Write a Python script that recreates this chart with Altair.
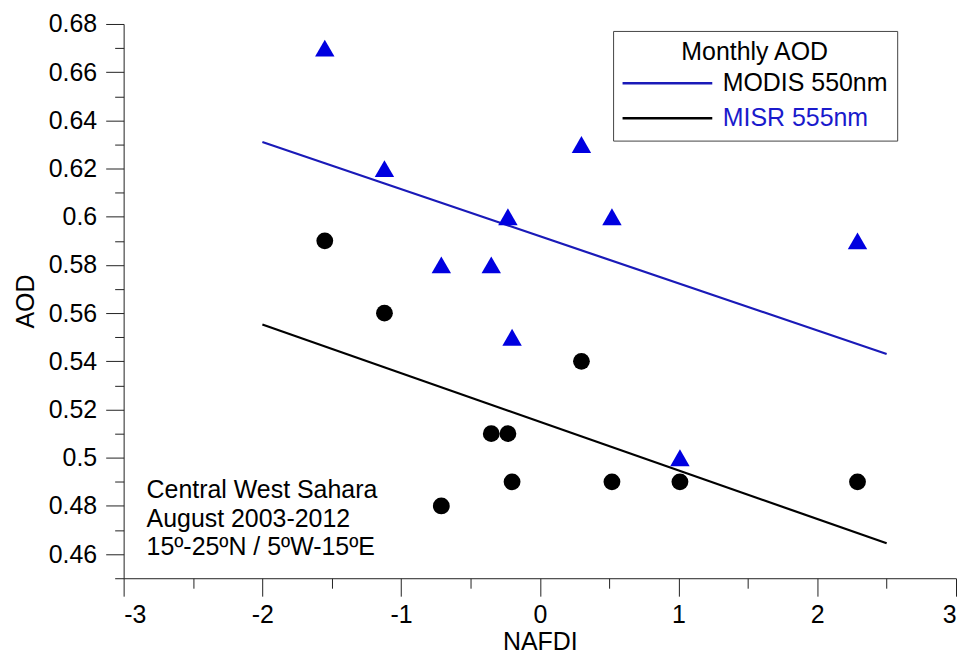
import altair as alt
import pandas as pd

# ---- data ----
NAFDI = [-1.55, -1.12, -0.71, -0.35, -0.23, -0.20, 0.30, 0.52, 1.01, 2.29]
MODIS_AOD = [0.67, 0.62, 0.58, 0.58, 0.60, 0.55, 0.63, 0.60, 0.50, 0.59]
MISR_AOD = [0.59, 0.56, 0.48, 0.51, 0.51, 0.49, 0.54, 0.49, 0.49, 0.49]
SERIES = ["MODIS 550nm", "MISR 555nm"]
MARK_KEYS = ["MODIS", "MISR"]
FIT_EXTENT = [-2, 2.5]

X_MAJOR = [-3, -2, -1, 0, 1, 2, 3]
X_MINOR = [-2.5, -1.5, -0.5, 0.5, 1.5, 2.5]
Y_MAJOR = [0.46, 0.48, 0.5, 0.52, 0.54, 0.56, 0.58, 0.6, 0.62, 0.64, 0.66, 0.68]
Y_MINOR = [0.45, 0.47, 0.49, 0.51, 0.53, 0.55, 0.57, 0.59, 0.61, 0.63, 0.65, 0.67]
NOTE_LINES = ["Central West Sahara", "August 2003-2012", "15º-25ºN / 5ºW-15ºE"]

n = len(NAFDI)
df = pd.DataFrame({
    "NAFDI": NAFDI + NAFDI,
    "AOD": MODIS_AOD + MISR_AOD,
    "series": [SERIES[0]] * n + [SERIES[1]] * n,
    "key": [MARK_KEYS[0]] * n + [MARK_KEYS[1]] * n,
})
note_df = pd.DataFrame({"note": ["\n".join(NOTE_LINES)]})

FONT = "Liberation Sans"
FS = 25
BLUE_PT = "#0000e0"
BLUE_LN = "#1a1ab8"

xscale = alt.Scale(domain=[-3, 3], nice=False, zero=False)
yscale = alt.Scale(domain=[0.45, 0.68], nice=False, zero=False)

major_x = alt.Axis(values=X_MAJOR, orient="bottom", tickSize=18, labelPadding=6,
                   labelExpr="'' + datum.value", title="NAFDI", titlePadding=3)
major_y = alt.Axis(values=Y_MAJOR, orient="left", tickSize=18, labelPadding=9,
                   labelExpr="'' + datum.value", title="AOD", titlePadding=10)
minor_x = alt.Axis(values=X_MINOR, orient="bottom", tickSize=10, labels=False,
                   domain=False, title=None)
minor_y = alt.Axis(values=Y_MINOR, orient="left", tickSize=9, labels=False,
                   domain=False, title=None)

base = alt.Chart(df)

points = base.mark_point(filled=True, opacity=1, strokeWidth=0).encode(
    x=alt.X("NAFDI:Q", scale=xscale, axis=major_x),
    y=alt.Y("AOD:Q", scale=yscale, axis=major_y),
    fill=alt.Fill("key:N", scale=alt.Scale(domain=MARK_KEYS, range=[BLUE_PT, "black"]), legend=None),
    shape=alt.Shape("key:N", scale=alt.Scale(domain=MARK_KEYS, range=["triangle-up", "circle"]), legend=None),
    size=alt.Size("key:N", scale=alt.Scale(domain=MARK_KEYS, range=[380, 285]), legend=None),
)

lines = base.transform_regression(
    "NAFDI", "AOD", groupby=["series"], extent=FIT_EXTENT
).mark_line(strokeWidth=2.2).encode(
    x=alt.X("NAFDI:Q", scale=xscale, axis=None),
    y=alt.Y("AOD:Q", scale=yscale, axis=None),
    color=alt.Color(
        "series:N",
        scale=alt.Scale(domain=SERIES, range=[BLUE_LN, "black"]),
        legend=alt.Legend(
            title="Monthly AOD", orient="none", legendX=491, legendY=7,
            symbolType="M-1.6,0H10.4", symbolSize=225, symbolStrokeWidth=2.5,
            labelOffset=76, labelLimit=400, labelFont=FONT, labelFontSize=FS,
            labelColor=alt.ExprRef("datum.label === 'MISR 555nm' ? '#1a1acc' : 'black'"),
            titleFont=FONT, titleFontSize=FS, titleFontWeight="normal", titleColor="black",
            titleAnchor="middle", titlePadding=6, rowPadding=9,
            strokeColor="#444444", fillColor="white", padding=9,
        ),
    ),
)

minor = base.mark_point(opacity=0).encode(
    x=alt.X("NAFDI:Q", scale=xscale, axis=minor_x),
    y=alt.Y("AOD:Q", scale=yscale, axis=minor_y),
)

note = alt.Chart(note_df).mark_text(
    align="left", baseline="middle", font=FONT, fontSize=FS, lineHeight=28.5,
    lineBreak="\n", color="black",
).encode(text="note:N", x=alt.value(23), y=alt.value(468))

chart = alt.layer(minor, lines, points, note).resolve_axis(
    x="independent", y="independent"
).properties(
    width=835, height=556,
    padding={"left": 5, "top": 3, "right": 0, "bottom": 0},
).configure_axis(
    labelFont=FONT, labelFontSize=FS, labelColor="black",
    titleFont=FONT, titleFontSize=FS, titleFontWeight="normal", titleColor="black",
    tickColor="#222222", domainColor="#222222", grid=False,
).configure_view(stroke=None)

chart.save("out.html", embed_options={"renderer": "svg", "actions": False})
